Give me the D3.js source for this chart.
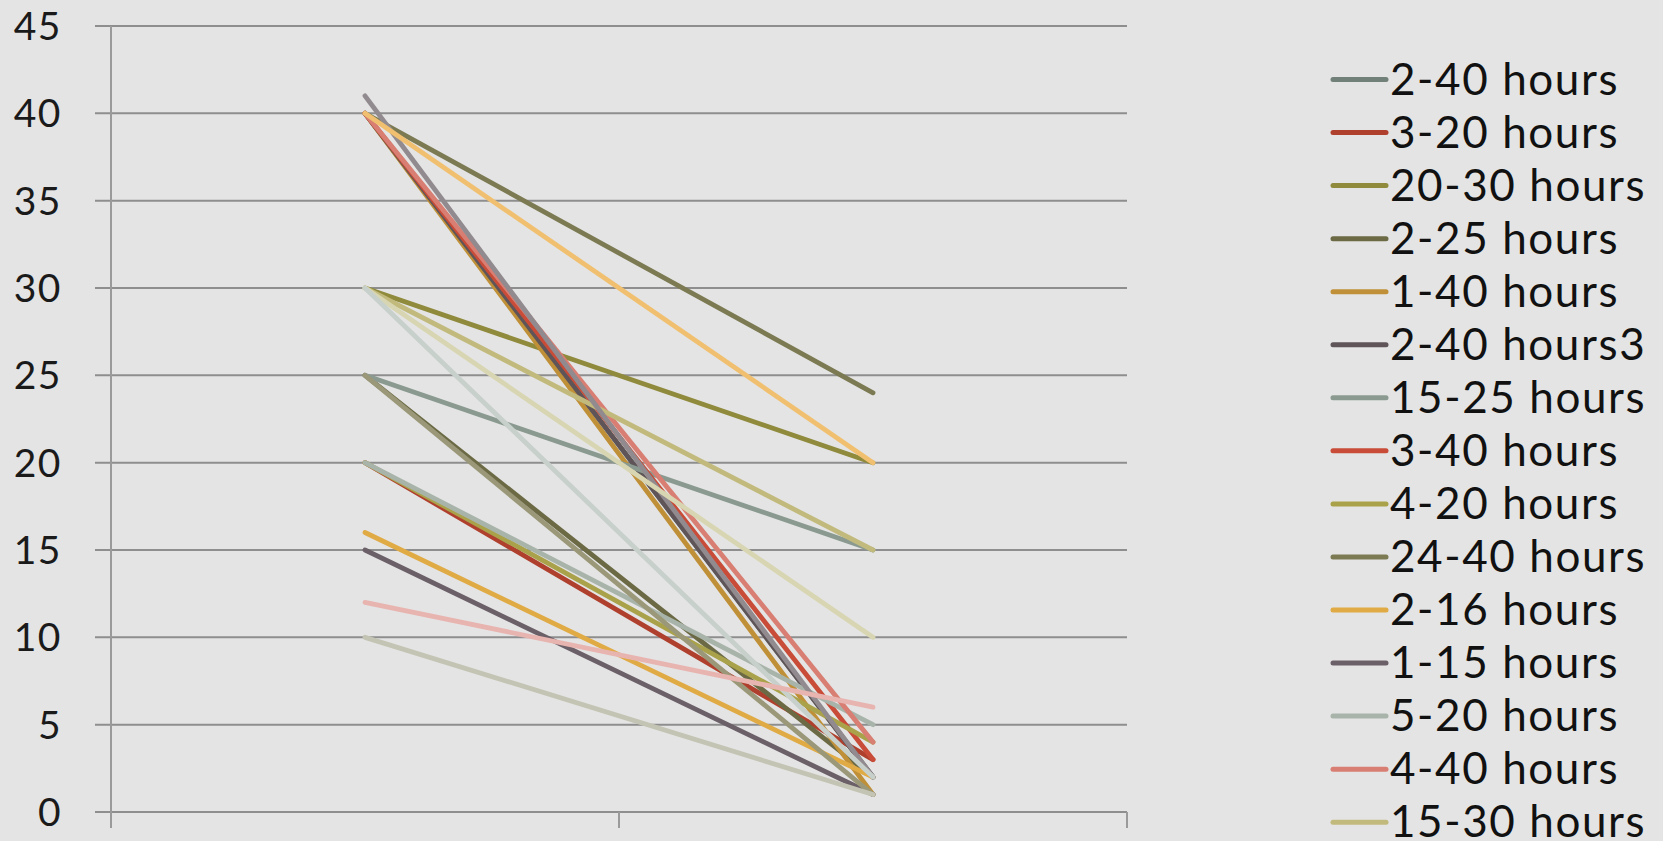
<!DOCTYPE html>
<html>
<head>
<meta charset="utf-8">
<script src="https://cdn.jsdelivr.net/npm/d3@7"></script>
<style>
  html, body { margin: 0; padding: 0; background: #e4e4e4; overflow: hidden; }
  svg { display: block; }
</style>
</head>
<body>
<svg id="chart" width="1663" height="841"></svg>
<script>
// ---- data ----
const categories = ["Start", "End"];
const seriesNames = [
  "2-40 hours", "3-20 hours", "20-30 hours", "2-25 hours", "1-40 hours",
  "2-40 hours3", "15-25 hours", "3-40 hours", "4-20 hours", "24-40 hours",
  "2-16 hours", "1-15 hours", "5-20 hours", "4-40 hours", "15-30 hours",
  "2-41 hours", "20-40 hours", "10-30 hours", "2-30 hours", "1-25 hours",
  "6-12 hours", "1-10 hours"
];
const startValues = [40, 20, 30, 25, 40, 40, 25, 40, 20, 40, 16, 15, 20, 40, 30, 41, 40, 30, 30, 25, 12, 10];
const endValues   = [ 2,  3, 20,  2,  1,  2, 15,  3,  4, 24,  2,  1,  5,  4, 15,  2, 20, 10,  2,  1,  6,  1];
const seriesColors = [
  "#718078", "#b0402e", "#8f8a3c", "#6b6a45", "#c09038",
  "#5f5558", "#8a9a90", "#c84c38", "#a9a24a", "#7b7a52",
  "#e0aa44", "#6c6068", "#a8b4aa", "#d87e72", "#c2ba7c",
  "#918a8e", "#f0c070", "#d8d6b2", "#c8d0cc", "#9a9878",
  "#e8b4b0", "#c4c4b4"
];
const yTicks = [0, 5, 10, 15, 20, 25, 30, 35, 40, 45];
const legendVisibleCount = 15;

// ---- layout ----
const svg = d3.select("#chart");
const plot = { left: 111, right: 1127, top: 26, bottom: 812 };

const x = d3.scaleBand().domain(categories).range([plot.left, plot.right]).padding(0);
const y = d3.scaleLinear().domain([0, 45]).range([plot.bottom, plot.top]);

// gridlines
svg.append("g").selectAll("line").data(yTicks).join("line")
  .attr("x1", plot.left - 16).attr("x2", plot.right)
  .attr("y1", d => y(d)).attr("y2", d => y(d))
  .attr("stroke", "#8e8e8e").attr("stroke-width", 2);

// y axis line
svg.append("line")
  .attr("x1", plot.left).attr("x2", plot.left)
  .attr("y1", y(45)).attr("y2", plot.bottom + 16)
  .attr("stroke", "#9a9a9a").attr("stroke-width", 2);

// x axis category boundary ticks
const bounds = categories.map(c => x(c)).concat([x(categories[categories.length - 1]) + x.bandwidth()]);
svg.append("g").selectAll("line").data(bounds).join("line")
  .attr("x1", d => d).attr("x2", d => d)
  .attr("y1", plot.bottom).attr("y2", plot.bottom + 16)
  .attr("stroke", "#9a9a9a").attr("stroke-width", 2);

// y tick labels
svg.append("g").selectAll("text").data(yTicks).join("text")
  .attr("x", 62).attr("y", d => y(d))
  .attr("dy", "0.36em")
  .attr("text-anchor", "end")
  .attr("font-family", "Lato, 'Open Sans', sans-serif")
  .attr("font-size", 39)
  .attr("letter-spacing", 1.5)
  .attr("fill", "#1a1a1a")
  .text(d => d);

// series lines
const cx = c => x(c) + x.bandwidth() / 2;
const line = d3.line().x(d => cx(d.cat)).y(d => y(d.v));
const series = seriesNames.map((name, i) => ({
  name, color: seriesColors[i],
  pts: [{ cat: categories[0], v: startValues[i] }, { cat: categories[1], v: endValues[i] }]
}));
svg.append("g").selectAll("path").data(series).join("path")
  .attr("d", d => line(d.pts))
  .attr("fill", "none")
  .attr("stroke", d => d.color)
  .attr("stroke-width", 4.8)
  .attr("stroke-linecap", "round");

// legend (only the entries that fit in the view, as in the reference)
const legend = svg.append("g");
const rowH = 53.05, row0 = 79.5;
const items = legend.selectAll("g").data(series.slice(0, legendVisibleCount)).join("g")
  .attr("transform", (d, i) => `translate(0, ${row0 + i * rowH})`);
items.append("line")
  .attr("x1", 1333).attr("x2", 1386).attr("y1", 0).attr("y2", 0)
  .attr("stroke", d => d.color).attr("stroke-width", 5).attr("stroke-linecap", "round");
items.append("text")
  .attr("x", 1390).attr("y", 15)
  .attr("font-family", "Lato, 'Open Sans', sans-serif")
  .attr("font-size", 44)
  .attr("letter-spacing", 1.6)
  .attr("fill", "#111")
  .text(d => d.name);
</script>
</body>
</html>
